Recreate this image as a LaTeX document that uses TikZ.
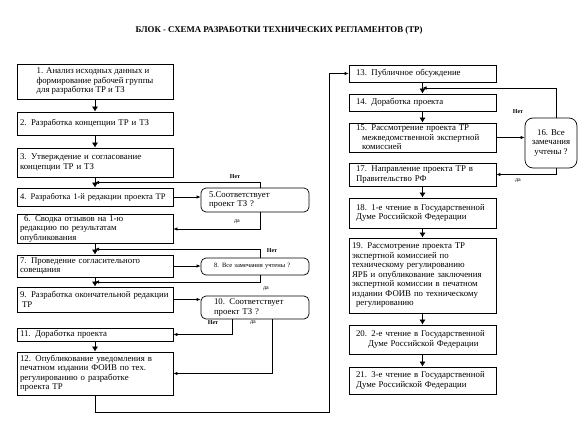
\documentclass[tikz,border=0pt]{standalone}
\usepackage{fontspec}
\setmainfont{Liberation Serif}
\usetikzlibrary{positioning, arrows.meta, calc}

\begin{document}
\begin{tikzpicture}[
    x=1pt, y=-1pt,
    block/.style={draw, rectangle, line width=0.7pt, align=left, inner xsep=3pt, inner ysep=1pt,
                  font=\fontsize{8.8}{9.5}\selectfont},
    leftbox/.style={block, minimum width=156pt, text width=150pt},
    rightbox/.style={block, minimum width=147pt, text width=141pt},
    query/.style={block, rounded corners=5pt, minimum width=108pt},
    arrow/.style={-{Latex[length=5pt, width=6pt]}, line width=0.7pt},
    back/.style={-{Latex[length=4pt, width=3.5pt]}, line width=0.7pt},
    label/.style={font=\fontsize{6}{7}\selectfont}
]
    \useasboundingbox (0,0) rectangle (587,443);

    % Title
    \node[font=\fontsize{8.8}{9.5}\selectfont\bfseries] (head) at (279,30)
        {БЛОК - СХЕМА РАЗРАБОТКИ ТЕХНИЧЕСКИХ РЕГЛАМЕНТОВ (ТР)};

    % Left column
    \node[block, minimum width=156pt, minimum height=35pt] (b1) at (95,81.5)
        {1. Анализ исходных данных и\\формирование рабочей группы\\для разработки ТР и ТЗ};
    \node[leftbox, minimum height=23pt] (b2) at (95,123.5) {2. Разработка концепции ТР и ТЗ};
    \node[leftbox, minimum height=29pt] (b3) at (95,162.5)
        {3. Утверждение и согласование\\концепции ТР и ТЗ};
    \node[leftbox, minimum height=18pt, font=\fontsize{8.5}{9.5}\selectfont] (b4) at (95,197)
        {4. Разработка 1-й редакции проекта ТР};
    \node[leftbox, minimum height=28pt] (b6) at (95,229)
        {\hspace*{4pt}6. Сводка отзывов на 1-ю\\редакцию по результатам\\опубликования};
    \node[leftbox, minimum height=22pt] (b7) at (95,266)
        {7. Проведение согласительного\\совещания};
    \node[leftbox, minimum height=25pt] (b9) at (95,299.5)
        {9. Разработка окончательной редакции\\\hspace*{2pt}ТР};
    \node[leftbox, minimum height=13pt] (b11) at (95,334.5) {11. Доработка проекта};
    \node[leftbox, minimum height=43pt] (b12) at (95,373.5)
        {12. Опубликование уведомления в\\печатном издании ФОИВ по тех.\\регулированию о разработке\\проекта ТР};

    % Questions
    \node[query, minimum height=24pt, inner xsep=8pt, text width=92pt] (b5) at (255,200)
        {5.Соответствует\\проект ТЗ ?};
    \node[query, minimum height=17pt, inner xsep=13pt, text width=82pt,
          font=\fontsize{6.5}{7.5}\selectfont] (b8) at (255,266.5) {8. Все замечания учтены ?};
    \node[query, minimum height=23pt, inner xsep=13pt, text width=82pt] (b10) at (255,307.5)
        {10. Соответствует\\проект ТЗ ?};

    % Right column
    \node[rightbox, minimum height=17pt] (b13) at (422.5,73.5) {\hspace*{4pt}13. Публичное обсуждение};
    \node[rightbox, minimum height=17pt] (b14) at (422.5,102.5) {\hspace*{4pt}14. Доработка проекта};
    \node[rightbox, minimum height=29pt] (b15) at (422.5,137.5)
        {\hspace*{4pt}15. Рассмотрение проекта ТР\\\hspace*{10pt}межведомственной экспертной\\\hspace*{10pt}комиссией};
    \node[block, rounded corners=8pt, align=center, minimum width=52pt, minimum height=50pt] (b16)
        at (551,143) {16. Все\\замечания\\учтены ?};
    \node[rightbox, minimum height=23pt] (b17) at (422.5,174.5)
        {\hspace*{4pt}17. Направление проекта ТР в\\\hspace*{4pt}Правительство РФ};
    \node[rightbox, minimum height=30pt] (b18) at (422.5,213)
        {\hspace*{4pt}18. 1-е чтение в Государственной\\\hspace*{4pt}Думе Российской Федерации};
    \node[rightbox, minimum height=75pt] (b19) at (422.5,275.5)
        {19. Рассмотрение проекта ТР\\экспертной комиссией по\\техническому регулированию\\ЯРБ и опубликование заключения\\экспертной комиссии в печатном\\издании ФОИВ по техническому\\\hspace*{4pt}регулированию};
    \node[rightbox, minimum height=29pt] (b20) at (422.5,339.5)
        {\hspace*{4pt}20. 2-е чтение в Государственной\\\hspace*{16pt}Думе Российской Федерации};
    \node[rightbox, minimum height=27pt] (b21) at (422.5,380.5)
        {\hspace*{4pt}21. 3-е чтение в Государственной\\\hspace*{4pt}Думе Российской Федерации};

    % Junctions on the main line
    \coordinate (j34) at ($(b3.south)!0.5!(b4.north)$);
    \coordinate (j67) at ($(b6.south)!0.5!(b7.north)$);
    \coordinate (j79) at ($(b7.south)!0.5!(b9.north)$);
    \coordinate (j1314) at ($(b13.south)!0.5!(b14.north)$);
    \coordinate (low) at (329,412);

    % Main arrows
    \draw[arrow] (b1) -- (b2);
    \draw[arrow] (b2) -- (b3);
    \draw[arrow] (b3) -- (b4);
    \draw[arrow] (b6) -- (b7);
    \draw[arrow] (b7) -- (b9);
    \draw[arrow] (b11) -- (b12);
    \draw[arrow] (b13) -- (b14);
    \draw[arrow] (b14) -- (b15);
    \draw[arrow] (b17) -- (b18);
    \draw[arrow] (b18) -- (b19);
    \draw[arrow] (b19) -- (b20);
    \draw[arrow] (b20) -- (b21);

    % Questions and answers
    \draw[back] (b4.east) -- (b4.east -| b5.west);
    \draw[back] ([xshift=5pt]b5.north) |- (j34);
    \draw[back] ([xshift=5pt]b5.south) |- (b6.east);
    \draw[back] (b7.east) -- (b7.east -| b8.west);
    \draw[back] ([xshift=5pt]b8.north) |- (j67);
    \draw[back] ([xshift=5pt]b8.south) |- (j79);
    \draw[back] (b9.east) -- (b9.east -| b10.west);
    \draw[back] ([xshift=-23pt]b10.south) |- (b11.east);
    \draw[back] ([xshift=17pt]b10.south) |- (b12.east);
    \draw[back] (b12.south) |- (low) |- (b13.west);
    \draw[back] (b15.east) -- (b15.east -| b16.west);
    \draw[back] ([xshift=5pt]b16.north) |- (j1314);
    \draw[back] ([xshift=5pt]b16.south) |- (b17.east);

    % Answer labels
    \node[label] (no5) at (235,177) {\textbf{Нет}};
    \node[label] (yes5) at (237,222) {да};
    \node[label] (no8) at (272,251) {\textbf{Нет}};
    \node[label] (yes8) at (266,289) {да};
    \node[label] (no10) at (213,323) {\textbf{Нет}};
    \node[label] (yes10) at (253,323) {да};
    \node[label] (no16) at (518,112) {\textbf{Нет}};
    \node[label] (yes16) at (518,181) {да};

\end{tikzpicture}
\end{document}
